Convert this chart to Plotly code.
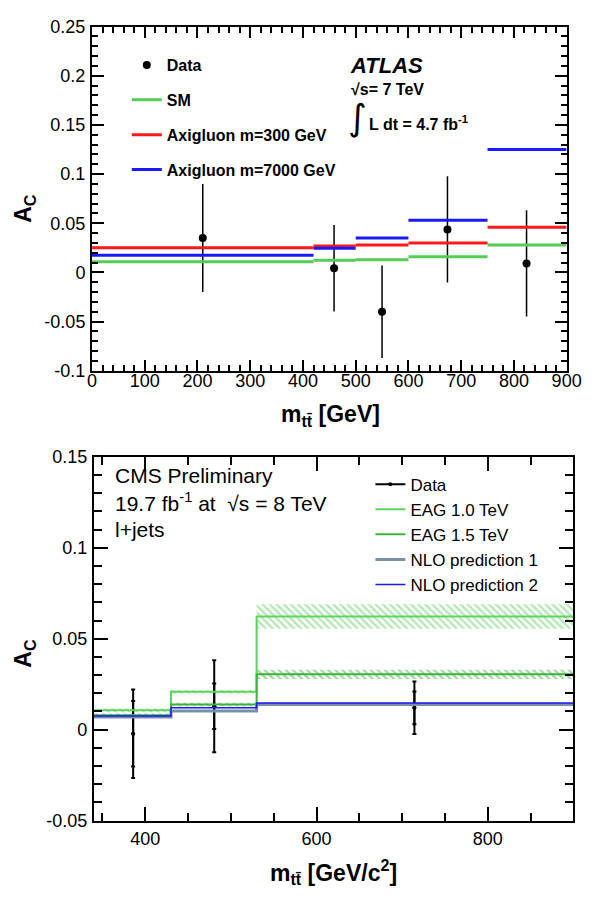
import plotly.graph_objects as go

# ---------------- Top panel (ATLAS, 7 TeV) ----------------
atlas_edges = [0, 420, 500, 600, 750, 900]
atlas_sm = [0.011, 0.0125, 0.013, 0.016, 0.028]
atlas_axi300 = [0.025, 0.027, 0.028, 0.030, 0.046]
atlas_axi7000 = [0.0175, 0.0247, 0.035, 0.053, 0.125]
atlas_data_x = [210, 459, 550, 674, 824]
atlas_data_y = [0.035, 0.0043, -0.040, 0.0438, 0.0092]
atlas_data_err = [0.055, 0.044, 0.047, 0.054, 0.054]
atlas_ytickvals = [-0.1, -0.05, 0, 0.05, 0.1, 0.15, 0.2, 0.25]
atlas_yticktext = ["-0.1", "-0.05", "0", "0.05", "0.1", "0.15", "0.2", "0.25"]

# ---------------- Bottom panel (CMS, 8 TeV) ----------------
cms_edges = [340, 430, 530, 900]
cms_eag10 = [0.0106, 0.0208, 0.0622]
cms_eag10_unc = [0.001, 0.001, 0.0068]
cms_eag15 = [0.0079, 0.0138, 0.0304]
cms_eag15_unc = [0.001, 0.001, 0.0025]
cms_nlo1 = [0.0070, 0.0102, 0.0138]
cms_nlo2 = [0.0075, 0.0120, 0.0146]
cms_data_x = [385.8, 480.5, 714.3]
cms_data_y = [-0.0023, 0.0128, 0.0120]
cms_data_stat = [0.018, 0.0125, 0.009]
cms_data_tot = [0.0243, 0.0253, 0.0144]
cms_ytickvals = [-0.05, 0, 0.05, 0.1, 0.15]
cms_yticktext = ["-0.05", "0", "0.05", "0.1", "0.15"]

FONT = "Liberation Sans"
W, H = 600, 899


def px(x):
    return x / W


def py(y):
    return 1 - y / H


def segments(edges, vals):
    xs, ys = [], []
    for i, v in enumerate(vals):
        xs += [edges[i], edges[i + 1], None]
        ys += [v, v, None]
    return xs, ys


def steps(edges, vals):
    return list(edges), list(vals) + [vals[-1]]


fig = go.Figure()

# --- top panel traces
fig.add_trace(go.Scatter(
    x=atlas_data_x, y=atlas_data_y, mode="markers", name="Data",
    marker=dict(color="black", size=8),
    error_y=dict(type="data", array=atlas_data_err, color="black", thickness=1.5, width=0),
    xaxis="x", yaxis="y", legend="legend", legendgroup="a1"))
for name, vals, col in [("SM", atlas_sm, "#55cc55"),
                        ("Axigluon m=300 GeV", atlas_axi300, "#ff1a1a"),
                        ("Axigluon m=7000 GeV", atlas_axi7000, "#1a1aff")]:
    xs, ys = segments(atlas_edges, vals)
    fig.add_trace(go.Scatter(x=xs, y=ys, mode="lines", name=name,
                             line=dict(color=col, width=3),
                             xaxis="x", yaxis="y", legend="legend", legendgroup=name))

# --- bottom panel traces
centers = [(cms_edges[i] + cms_edges[i + 1]) / 2 for i in range(len(cms_edges) - 1)]
widths = [cms_edges[i + 1] - cms_edges[i] for i in range(len(cms_edges) - 1)]
for vals, unc, col in [(cms_eag10, cms_eag10_unc, "#5fd35f"),
                       (cms_eag15, cms_eag15_unc, "#3cb43c")]:
    fig.add_trace(go.Bar(
        x=centers, y=[2 * u for u in unc], base=[v - u for v, u in zip(vals, unc)],
        width=widths, showlegend=False, hoverinfo="skip",
        marker=dict(color="rgba(0,0,0,0)", line=dict(width=0),
                    pattern=dict(shape="\\", fgcolor=col, bgcolor="rgba(0,0,0,0)",
                                 size=5, solidity=0.45)),
        xaxis="x2", yaxis="y2"))

fig.add_trace(go.Scatter(
    x=cms_data_x, y=cms_data_y, mode="markers", showlegend=False,
    marker=dict(color="black", size=4),
    error_y=dict(type="data", array=cms_data_tot, color="black", thickness=2, width=2),
    xaxis="x2", yaxis="y2"))
fig.add_trace(go.Scatter(
    x=cms_data_x, y=cms_data_y, mode="markers",
    marker=dict(color="black", size=4), showlegend=False,
    error_y=dict(type="data", array=cms_data_stat, color="black", thickness=2, width=2),
    xaxis="x2", yaxis="y2"))
fig.add_trace(go.Scatter(
    x=[None], y=[None], mode="lines+markers", name="Data",
    line=dict(color="black", width=2), marker=dict(color="black", size=4),
    xaxis="x2", yaxis="y2", legend="legend2"))

for name, vals, col, w in [("EAG 1.0 TeV", cms_eag10, "#5fd35f", 2),
                           ("EAG 1.5 TeV", cms_eag15, "#3cb43c", 2),
                           ("NLO prediction 1", cms_nlo1, "#7890a8", 3),
                           ("NLO prediction 2", cms_nlo2, "#1a1aee", 1.5)]:
    xs, ys = steps(cms_edges, vals)
    fig.add_trace(go.Scatter(x=xs, y=ys, mode="lines", name=name,
                             line=dict(color=col, width=w, shape="hv"),
                             xaxis="x2", yaxis="y2", legend="legend2"))

# dummy traces so the mirrored tick axes are drawn
for xa, ya in [("x3", "y3"), ("x4", "y4")]:
    fig.add_trace(go.Scatter(x=[None], y=[None], xaxis=xa, yaxis=ya,
                             showlegend=False, hoverinfo="skip"))

tick_common = dict(ticks="inside", tickcolor="black", tickwidth=1.5, showgrid=False,
                   zeroline=False, tickfont=dict(family=FONT, size=18, color="black"))
axis_common = dict(showline=True, linecolor="black", linewidth=2, mirror=True,
                   ticklabeloverflow="allow", **tick_common)
mirror_common = dict(showline=False, showticklabels=False, **tick_common)

top_x = dict(range=[0, 900], dtick=100, tick0=0, ticklen=11,
             minor=dict(dtick=20, ticklen=6, ticks="inside", tickcolor="black"))
top_y = dict(range=[-0.1, 0.25], tickmode="array", tickvals=atlas_ytickvals,
             ticktext=atlas_yticktext, ticklen=12,
             minor=dict(tickmode="linear", tick0=0, dtick=0.01, ticklen=6,
                        ticks="inside", tickcolor="black"))
bot_x = dict(range=[340, 900], dtick=200, tick0=0, ticklen=14,
             minor=dict(dtick=50, ticklen=8, ticks="inside", tickcolor="black"))
bot_y = dict(range=[-0.05, 0.15], tickmode="array", tickvals=cms_ytickvals,
             ticktext=cms_yticktext, ticklen=14,
             minor=dict(tickmode="linear", tick0=0, dtick=0.01, ticklen=8,
                        ticks="inside", tickcolor="black"))

top_xdom = [px(90), px(581)]
top_ydom = [py(369), py(17)]
bot_xdom = [px(92), px(588)]
bot_ydom = [py(829), py(457)]

fig.update_layout(
    width=W, height=H, margin=dict(l=0, r=0, t=0, b=0),
    paper_bgcolor="white", plot_bgcolor="white", barmode="overlay",
    xaxis=dict(domain=top_xdom, anchor="y", ticklabelstandoff=-7, **top_x, **axis_common),
    yaxis=dict(domain=top_ydom, anchor="x", ticklabelstandoff=1, **top_y, **axis_common),
    xaxis3=dict(domain=top_xdom, anchor="y3", overlaying="x", side="top", **top_x, **mirror_common),
    yaxis3=dict(domain=top_ydom, anchor="x3", overlaying="y", side="right", **top_y, **mirror_common),
    xaxis2=dict(domain=bot_xdom, anchor="y2", ticklabelstandoff=1, **bot_x, **axis_common),
    yaxis2=dict(domain=bot_ydom, anchor="x2", ticklabelstandoff=1, **bot_y, **axis_common),
    xaxis4=dict(domain=bot_xdom, anchor="y4", overlaying="x2", side="top", **bot_x, **mirror_common),
    yaxis4=dict(domain=bot_ydom, anchor="x4", overlaying="y2", side="right", **bot_y, **mirror_common),
    legend=dict(x=px(126), y=py(39), xanchor="left", yanchor="top",
                bgcolor="rgba(0,0,0,0)", traceorder="grouped", tracegroupgap=11,
                font=dict(family=FONT, size=16, color="black", weight="bold")),
    legend2=dict(x=px(378), y=py(467), xanchor="left", yanchor="top",
                 bgcolor="rgba(0,0,0,0)", tracegroupgap=0,
                 font=dict(family=FONT, size=17, color="black")),
)

ann = [
    dict(x=px(20), y=py(203), text="<b>A<sub>C</sub></b>", textangle=-90,
         font=dict(family=FONT, size=23, color="black")),
    dict(x=px(337), y=py(415), text="<b>m<sub>tt̄</sub> [GeV]</b>",
         font=dict(family=FONT, size=23, color="black")),
    dict(x=px(20), y=py(658), text="<b>A<sub>C</sub></b>", textangle=-90,
         font=dict(family=FONT, size=23, color="black")),
    dict(x=px(340), y=py(882), text="<b>m<sub>tt̄</sub> [GeV/c<sup>2</sup>]</b>",
         font=dict(family=FONT, size=23, color="black")),
    dict(x=px(355), y=py(57), xanchor="left", text="<b><i>ATLAS</i></b>",
         font=dict(family=FONT, size=22, color="black")),
    dict(x=px(356), y=py(81), xanchor="left", text="<b>√s= 7 TeV</b>",
         font=dict(family=FONT, size=16, color="black")),
    dict(x=px(353), y=py(110), xanchor="left", text="∫",
         font=dict(family="DejaVu Sans", size=36, color="black")),
    dict(x=px(374), y=py(116), xanchor="left", text="<b>L dt = 4.7 fb<sup>-1</sup></b>",
         font=dict(family=FONT, size=16, color="black")),
    dict(x=px(112), y=py(476), xanchor="left", text="CMS Preliminary",
         font=dict(family=FONT, size=21, color="black")),
    dict(x=px(112), y=py(503), xanchor="left",
         text="19.7 fb<sup>-1</sup> at  √s = 8 TeV",
         font=dict(family=FONT, size=21, color="black")),
    dict(x=px(112), y=py(531), xanchor="left", text="l+jets",
         font=dict(family=FONT, size=21, color="black")),
]
for a in ann:
    a.setdefault("xanchor", "center")
    a.update(xref="paper", yref="paper", showarrow=False, yanchor="middle")
fig.update_layout(annotations=ann)

# remove the browser's default page margin so the 600x899 figure fills the window exactly
page_css = ("document.body.style.margin='0';"
            "document.body.style.overflow='hidden';"
            "document.documentElement.style.overflow='hidden';")
fig.write_html("out.html", post_script=page_css)
